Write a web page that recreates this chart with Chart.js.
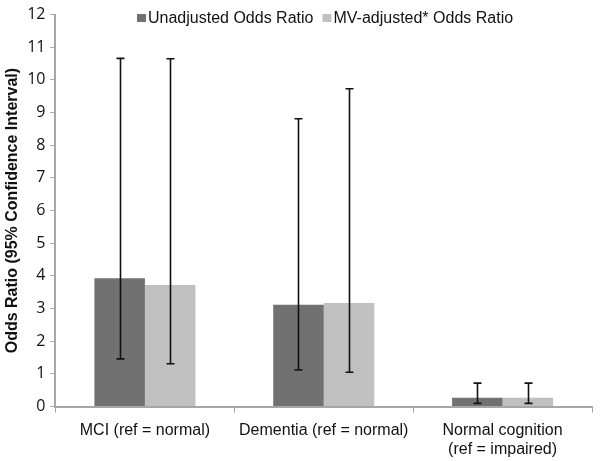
<!DOCTYPE html>
<html>
<head>
<meta charset="utf-8">
<script src="https://cdn.jsdelivr.net/npm/chart.js@4"></script>
<style>
  html, body { margin: 0; padding: 0; background: #fff; }
  #wrap { position: relative; width: 601px; height: 461px; }
</style>
</head>
<body>
<div id="wrap"><canvas id="chart" width="601" height="461"></canvas></div>
<script>
'use strict';
// values
const CATEGORIES = ['MCI (ref = normal)', 'Dementia (ref = normal)', ['Normal cognition', '(ref = impaired)']];
const UNADJ = [3.93, 3.12, 0.27];
const UNADJ_LO = [1.46, 1.12, 0.10];
const UNADJ_HI = [10.66, 8.81, 0.72];
const ADJ = [3.72, 3.17, 0.27];
const ADJ_LO = [1.31, 1.05, 0.10];
const ADJ_HI = [10.65, 9.73, 0.72];
const Y_TICKS = [0, 1, 2, 3, 4, 5, 6, 7, 8, 9, 10, 11, 12];

const AXIS = '#a6a6a6';
const FONT = '"Liberation Sans", Arial, sans-serif';

// error bars drawn from the dataset's lo/hi arrays through the scales
const errorBars = {
  id: 'errorBars',
  afterDatasetsDraw(chart) {
    const ctx = chart.ctx, y = chart.scales.y;
    chart.data.datasets.forEach((ds, di) => {
      const meta = chart.getDatasetMeta(di);
      meta.data.forEach((bar, i) => {
        const top = y.getPixelForValue(ds.hi[i]), bot = y.getPixelForValue(ds.lo[i]);
        const x = Math.round(bar.x) + 0.5;
        ctx.save();
        ctx.strokeStyle = '#111'; ctx.lineWidth = 1.6;
        ctx.beginPath();
        ctx.moveTo(x, top); ctx.lineTo(x, bot);
        ctx.moveTo(x - 4, top); ctx.lineTo(x + 4, top);
        ctx.moveTo(x - 4, bot); ctx.lineTo(x + 4, bot);
        ctx.stroke();
        ctx.restore();
      });
    });
  }
};

// legend drawn over the top of the plot, as in the original
const topLegend = {
  id: 'topLegend',
  afterDraw(chart) {
    const ctx = chart.ctx;
    ctx.save();
    ctx.font = '16px ' + FONT;
    ctx.textBaseline = 'middle';
    let x = 137;
    const yc = 19;
    chart.data.datasets.forEach((ds) => {
      ctx.fillStyle = ds.backgroundColor;
      ctx.fillRect(x, yc - 5, 9, 8);
      ctx.fillStyle = '#111';
      ctx.fillText(ds.label, x + 11, yc);
      x += 11 + ctx.measureText(ds.label).width + 9;
    });
    ctx.restore();
  }
};

new Chart(document.getElementById('chart'), {
  type: 'bar',
  data: {
    labels: CATEGORIES,
    datasets: [
      { label: 'Unadjusted Odds Ratio', data: UNADJ, lo: UNADJ_LO, hi: UNADJ_HI,
        backgroundColor: '#717171' },
      { label: 'MV-adjusted* Odds Ratio', data: ADJ, lo: ADJ_LO, hi: ADJ_HI,
        backgroundColor: '#c0c0c0' },
    ],
  },
  options: {
    responsive: false, animation: false,
    layout: { padding: { top: 5, right: 9, left: 3, bottom: -6 } },
    datasets: { bar: { categoryPercentage: 0.565, barPercentage: 1.0 } },
    plugins: { legend: { display: false }, tooltip: { enabled: false } },
    scales: {
      x: {
        grid: { display: true, offset: true, drawOnChartArea: false, drawTicks: true,
          tickLength: 6, color: AXIS },
        border: { color: AXIS, width: 2 },
        ticks: { color: '#111', font: { family: FONT, size: 16 }, padding: 8,
          maxRotation: 0, autoSkip: false },
      },
      y: {
        min: 0, max: 12,
        afterBuildTicks: (s) => { s.ticks = Y_TICKS.map((v) => ({ value: v })); },
        grid: { display: true, drawOnChartArea: false, drawTicks: true, tickLength: 5, color: AXIS },
        border: { color: AXIS, width: 2 },
        ticks: { color: '#111', font: { family: '"Open Sans", sans-serif', size: 16 }, padding: 5 },
        title: { display: true, text: 'Odds Ratio (95% Confidence Interval)', color: '#111',
          font: { family: FONT, size: 16, weight: 'bold' }, padding: { top: 0, bottom: 0 } },
      },
    },
  },
  plugins: [errorBars, topLegend],
});
</script>
</body>
</html>
